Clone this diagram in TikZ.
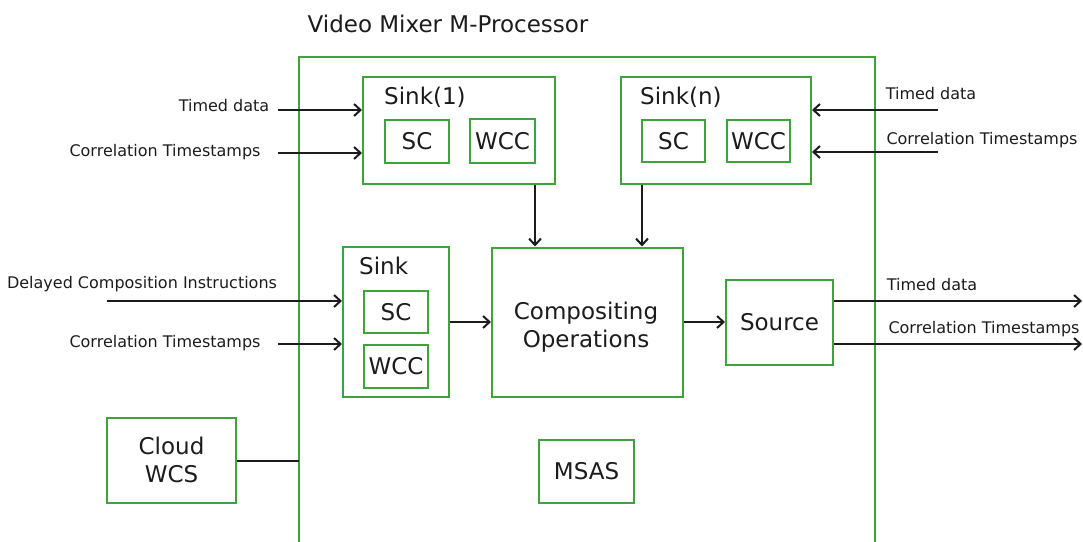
\documentclass[tikz,border=0pt]{standalone}
\usepackage{fontspec}
\setmainfont{DejaVu Sans}
\usetikzlibrary{arrows.meta}
\definecolor{grn}{HTML}{3DA33D}
\definecolor{ink}{HTML}{1C1C1C}
\begin{document}
\begin{tikzpicture}[x=1pt,y=-1pt,
  box/.style={draw=grn, line width=2pt, inner sep=0pt, fill=white, text=ink, font=\fontsize{23}{28}\selectfont},
  lbl/.style={text=ink, font=\fontsize{16}{19}\selectfont, inner sep=0pt, text height=11.7pt, text depth=0pt},
  big/.style={text=ink, font=\fontsize{23}{28}\selectfont, inner sep=0pt, text height=16.8pt, text depth=0pt},
  multi/.style={text=ink, font=\fontsize{23}{28}\selectfont, inner sep=0pt, align=center},
  arr/.style={draw=ink, line width=2pt, -{Straight Barb[length=6.5pt,width=12pt]}},
  wire/.style={draw=ink, line width=2pt}]
\useasboundingbox (0,0) rectangle (1083,541);
% outer processor box (open at the bottom of the picture)
\draw[draw=grn, line width=2pt] (299,550) -- (299,57) -- (875,57) -- (875,550);
\coordinate (outerL) at (299,0);
\node[big] (title) at (448,24) {Video Mixer M-Processor};

% Sink(1)
\node[box, minimum width=192pt, minimum height=107pt] (sink1) at (459,130.5) {};
\node[big, anchor=west] (sink1t) at (384,96) {Sink(1)};
\node[box, minimum width=64pt, minimum height=43pt] (sc1) at (417,141.5) {SC};
\node[box, minimum width=65pt, minimum height=44pt] (wcc1) at (502.5,141) {WCC};

% Sink(n)
\node[box, minimum width=190pt, minimum height=107pt] (sinkn) at (716,130.5) {};
\node[big, anchor=west] (sinknt) at (640,96) {Sink(n)};
\node[box, minimum width=63pt, minimum height=42pt] (scn) at (673.5,141) {SC};
\node[box, minimum width=63pt, minimum height=42pt] (wccn) at (758.5,141) {WCC};

% Sink
\node[box, minimum width=106pt, minimum height=150pt] (sink) at (396,322) {};
\node[big, anchor=west] (sinkt) at (359,266) {Sink};
\node[box, minimum width=64pt, minimum height=42pt] (sc) at (396,312) {SC};
\node[box, minimum width=64pt, minimum height=43pt] (wcc) at (396,366.5) {WCC};

% Compositing
\node[box, minimum width=191pt, minimum height=149pt] (comp) at (587.5,322) {};
\node[multi] (compt) at (586,327.5) {Compositing\\Operations};

% Source
\node[box, minimum width=107pt, minimum height=85pt] (source) at (779.5,322) {Source};

% MSAS
\node[box, minimum width=95pt, minimum height=63pt] (msas) at (586.5,471.5) {MSAS};

% Cloud WCS
\node[box, minimum width=129pt, minimum height=85pt] (cloud) at (171.5,460.5) {};
\node[multi] (cloudt) at (171.5,459.5) {Cloud\\WCS};

% labels
\node[lbl] (l1) at (224,106) {Timed data};
\node[lbl] (l2) at (165,151) {Correlation Timestamps};
\node[lbl] (l3) at (142,283) {Delayed Composition Instructions};
\node[lbl] (l4) at (165,342) {Correlation Timestamps};
\node[lbl] (r1) at (931,94) {Timed data};
\node[lbl] (r2) at (982,139) {Correlation Timestamps};
\node[lbl] (r3) at (932,285) {Timed data};
\node[lbl] (r4) at (984,328) {Correlation Timestamps};

% arrow ends
\coordinate (i1) at (278,110);
\coordinate (i2) at (278,153);
\coordinate (i3) at (107,301);
\coordinate (i4) at (278,344);
\coordinate (j1) at (938,110);
\coordinate (j2) at (938,152);
\coordinate (o1) at (1082,301);
\coordinate (o2) at (1082,344);
\coordinate (x1) at (535,0);
\coordinate (x2) at (642,0);
\coordinate (y1) at (0,461);

\draw[arr] (i1) -- (i1 -| sink1.west);
\draw[arr] (i2) -- (i2 -| sink1.west);
\draw[arr] (i3) -- (i3 -| sink.west);
\draw[arr] (i4) -- (i4 -| sink.west);
\draw[arr] (j1) -- (j1 -| sinkn.east);
\draw[arr] (j2) -- (j2 -| sinkn.east);
\draw[arr] (x1 |- sink1.south) -- (x1 |- comp.north);
\draw[arr] (x2 |- sinkn.south) -- (x2 |- comp.north);
\draw[arr] (sink.east) -- (sink.east -| comp.west);
\draw[arr] (comp.east) -- (comp.east -| source.west);
\draw[arr] (o1 -| source.east) -- (o1);
\draw[arr] (o2 -| source.east) -- (o2);
\draw[wire] (y1 -| cloud.east) -- (y1 -| outerL);
\end{tikzpicture}
\end{document}
